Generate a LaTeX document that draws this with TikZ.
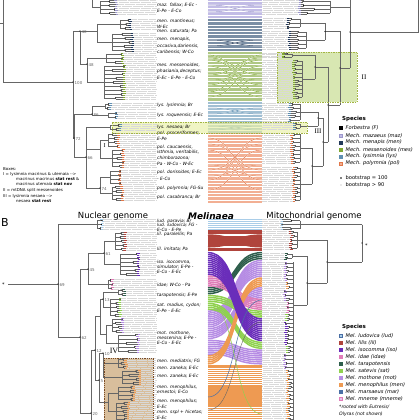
\documentclass[tikz,border=0pt]{standalone}
\usepackage{fontspec}
\setmainfont{DejaVu Sans}
\newfontfamily\serifrm{Liberation Serif}
\definecolor{tr}{HTML}{666666}
\definecolor{cmaz}{HTML}{C2BCE6}\definecolor{tmaz}{HTML}{9C98CC}
\definecolor{cmen}{HTML}{7A8EA5}\definecolor{tmen}{HTML}{22395A}
\definecolor{cmes}{HTML}{AFC784}\definecolor{tmes}{HTML}{7FA832}
\definecolor{clys}{HTML}{A1BFD3}\definecolor{tlys}{HTML}{5F8FB2}
\definecolor{cpol}{HTML}{F2AF93}\definecolor{tpol}{HTML}{E2784A}
\definecolor{blud}{HTML}{A9CDE8}\definecolor{blil}{HTML}{B0443C}
\definecolor{biso}{HTML}{6A2DBA}\definecolor{bidae}{HTML}{E07DB8}
\definecolor{btara}{HTML}{2E5E4C}\definecolor{bsat}{HTML}{8FD14F}
\definecolor{bmot}{HTML}{B68CE4}\definecolor{bmen}{HTML}{EE9A52}
\definecolor{bmar}{HTML}{4A6FA5}\definecolor{bmneme}{HTML}{E8C3EC}
\definecolor{boxIIfill}{HTML}{D8E7B2}\definecolor{boxIIline}{HTML}{A3B542}
\definecolor{boxIIIfill}{HTML}{E6EF9C}
\definecolor{boxIVfill}{HTML}{D8BE9C}\definecolor{boxIVline}{HTML}{7B4A22}
\tikzset{
 tree/.style={draw=tr, line width=0.4pt},
 leader/.style={draw=gray!30, line width=0.25pt, dash pattern=on 0.4pt off 0.7pt},
 tipc/.style={line width=0.7pt},
 rib/.style={line width=1.5pt},
 lab/.style={anchor=west, inner sep=0pt, font=\fontsize{4.4}{5}\selectfont\itshape},
 bsl/.style={anchor=west, inner sep=0pt, font=\fontsize{4}{5}\selectfont, text=tr},
 note/.style={anchor=west, inner sep=0pt, font=\fontsize{4}{5}\selectfont},
 leg/.style={anchor=west, inner sep=0pt, font=\fontsize{5.1}{6}\selectfont\itshape},
 legt/.style={anchor=west, inner sep=0pt, font=\fontsize{5.5}{6}\selectfont\bfseries},
 rom/.style={inner sep=0pt, font=\fontsize{7}{8}\selectfont\serifrm},
}
% clade: #1 xnode #2 ytop #3 spacing #4 npairs #5 xtip #6 color #7 dir #8 xlead
\newcommand\clade[8]{%
 \pgfmathsetmacro\cA{#2+0.5*#3}%
 \pgfmathsetmacro\cB{#2+(2*#4-1.5)*#3}%
 \draw[tree] (#1,\cA) -- (#1,\cB);%
 \foreach \k in {1,...,#4}{%
  \pgfmathsetmacro\ym{#2+(2*\k-1.5)*#3}%
  \pgfmathsetmacro\yu{#2+(2*\k-2)*#3}%
  \pgfmathsetmacro\yl{#2+(2*\k-1)*#3}%
  \pgfmathsetmacro\xs{#5-(#7)*(1.5+rnd*(abs(#5-#1)-2)*0.7)}%
  \pgfmathsetmacro\tu{#5-(#7)*rnd*1.5}%
  \pgfmathsetmacro\tl{#5-(#7)*rnd*1.5}%
  \draw[leader] (\tu,\yu) -- (#8,\yu) (\tl,\yl) -- (#8,\yl);%
  \draw[tree] (#1,\ym) -- (\xs,\ym) (\xs,\yu) -- (\xs,\yl) (\xs,\yu) -- (\tu,\yu) (\xs,\yl) -- (\tl,\yl);%
  \draw[tipc,#6] ({\tu-(#7)*2.2},\yu) -- (\tu,\yu) ({\tl-(#7)*2.2},\yl) -- (\tl,\yl);%
  \fill (\xs,\ym) circle[radius=0.45pt];%
 }%
}
\newcommand\xA[3]{%
 \draw[white,line width=1.0pt] (208,#1) .. controls (236,#1) and (234,#2) .. (262,#2);%
 \draw[#3,line width=0.5pt] (208,#1) .. controls (236,#1) and (234,#2) .. (262,#2);}
\newcommand\ribB[4]{%
 \foreach \j in {1,...,#3}{%
  \pgfmathsetmacro\yl{219.5+(#1+\j-1)*1.95}%
  \pgfmathsetmacro\yr{219.5+(#2+\j-1)*1.95}%
  \draw[rib,#4] (208,\yl) .. controls (238,\yl) and (232,\yr) .. (262,\yr);}}
\newcommand\lab[2]{\node[lab] at (157,#1) {#2};}
\newcommand\bsn[3]{\fill (#1,#2) circle[radius=0.7pt]; \node[bsl] at (#1+1.5,#2+1) {#3};}
\newcommand\legsq[3]{\filldraw[fill=#2,draw=#3,line width=0.3pt] (339.5,#1-1.5) rectangle (342.6,#1+1.5);}
\begin{document}
\begin{tikzpicture}[x=1pt,y=-1pt]
\useasboundingbox (0,0) rectangle (420,420);
\pgfmathsetseed{11}
% ---------- box fills under trees
\fill[boxIIfill] (277,52) rectangle (357,102);
\fill[boxIVfill] (104,358) rectangle (153,421);
% ---------- panel A band
\fill[cmaz] (208,0) rectangle (262,19);
\fill[cmen] (208,19) rectangle (262,51);
\fill[cmes] (208,51) rectangle (262,102);
\fill[clys] (208,102) rectangle (262,133);
\fill[cpol] (208,133) rectangle (262,203);
\foreach \y in {1.6,4.9,...,202} \draw[white,line width=0.2pt] (208,\y) -- (262,\y);
\xA{5}{12}{tmaz}\xA{12}{5}{tmaz}
\xA{40}{46}{tmen}\xA{46}{40}{tmen}
\xA{55}{92}{tmes}\xA{92}{55}{tmes}\xA{60}{85}{tmes}\xA{85}{60}{tmes}
\xA{66}{97}{tmes}\xA{97}{66}{tmes}\xA{72}{80}{tmes}\xA{80}{72}{tmes}
\xA{58}{75}{tmes}\xA{75}{58}{tmes}
\xA{108}{114}{tlys}\xA{114}{108}{tlys}\xA{126}{130}{tlys}\xA{130}{126}{tlys}
\xA{138}{180}{tpol}\xA{180}{138}{tpol}\xA{144}{170}{tpol}\xA{170}{144}{tpol}
\xA{150}{190}{tpol}\xA{190}{150}{tpol}\xA{165}{176}{tpol}\xA{176}{165}{tpol}
% ---------- panel B ribbons
\ribB{0}{0}{6}{blud}
\ribB{6}{6}{2}{blil}\ribB{9}{9}{5}{blil}\ribB{15}{15}{2}{blil}
\ribB{8}{14}{1}{blil}\ribB{14}{8}{1}{blil}
\ribB{75}{75}{28}{bmen}
\ribB{62}{67}{8}{bmot}
\ribB{56}{35}{6}{bmot}
\ribB{47}{21}{9}{bmot}
\ribB{35}{17}{4}{btara}
\ribB{29}{41}{6}{bidae}
\ribB{39}{47}{4}{bsat}
\ribB{43}{63}{4}{bsat}
\ribB{70}{30}{5}{bmen}
\ribB{17}{51}{12}{biso}
\draw[bmar,line width=0.5pt] (208,397) .. controls (238,397) and (232,300) .. (262,300);
\draw[bsat,line width=0.5pt] (208,303) .. controls (238,303) and (232,414) .. (262,414);
\draw[tr,line width=0.4pt] (208,410) .. controls (238,410) and (232,322) .. (262,322);
% ---------- box III fill
\fill[boxIIIfill,opacity=0.6] (112,122) rectangle (307,133);
% ---------- panel A left tree
\draw[tree] (0,23) -- (3,23) (3,0) -- (3,82) -- (73,82);
\draw[tree] (73,31) -- (73,138);
\draw[tree] (73,31) -- (80,31) (80,31) -- (80,64) (80,64) -- (87,64);
\draw[tree] (80,31) -- (97,31) (97,24) -- (97,42) (97,24) -- (120,24) (97,42) -- (112,42);
\draw[tree] (87,58) -- (87,82) (87,58) -- (106,58) (87,82) -- (104,82);
\draw[tree] (92,0) -- (92,7.5) -- (100,7.5);
\clade{100}{0.5}{2}{4}{118}{tmaz}{1}{156}
\clade{120}{19}{2}{3}{132}{tmen}{1}{156}
\clade{112}{33}{2}{5}{134}{tmen}{1}{156}
\clade{106}{53}{2}{3}{124}{tmes}{1}{156}
\clade{104}{65}{2}{9}{126}{tmes}{1}{156}
\draw[tree] (73,138) -- (74,138) (74,114) -- (74,157) (74,114) -- (92,114) (92,106) -- (92,115)
 (92,106) -- (105,106) (92,115) -- (108,115);
\clade{105}{103}{2}{2}{112}{tlys}{1}{156}
\clade{108}{112}{2}{2}{118}{tlys}{1}{156}
\draw[tree] (74,157) -- (86,157) (86,127) -- (86,188) (86,127) -- (110,127) (86,149) -- (100,149)
 (100,140) -- (100,158) (100,140) -- (108,140) (100,158) -- (112,158)
 (86,188) -- (100,188) (100,177) -- (100,193) (100,177) -- (110,177) (100,193) -- (112,193);
\clade{110}{124}{2}{2}{122}{tlys}{1}{156}
\clade{108}{133}{2}{4}{120}{tpol}{1}{156}
\clade{112}{149}{2}{5}{125}{tpol}{1}{156}
\clade{110}{170}{2}{4}{122}{tpol}{1}{156}
\clade{112}{186}{2}{4}{124}{tpol}{1}{156}
\bsn{80}{31}{40}\bsn{87}{64}{48}\bsn{73}{82}{100}\bsn{92}{114}{86}
\bsn{74}{138}{72}\bsn{86}{157}{66}\bsn{100}{188}{74}
\node[rom,font=\fontsize{6}{7}\selectfont\serifrm] at (104.5,146) {I};
% ---------- panel A right tree
\draw[tree] (418,0) -- (418,32) -- (350,32) (350,0) -- (350,68) (350,7.5) -- (330,7.5)
 (350,68) -- (340,68) (340,31.5) -- (340,105) (340,31.5) -- (325,31.5)
 (325,23) -- (325,40) (325,23) -- (300,23) (325,40) -- (306,40)
 (340,105) -- (328,105) (328,67) -- (328,142) (328,67) -- (315,67)
 (315,55.25) -- (315,79) (315,55.25) -- (292,55.25) (315,79) -- (302,79)
 (328,142) -- (323,142) (323,118) -- (323,166) (323,118) -- (318,118)
 (318,112) -- (318,126) (318,112) -- (300,112) (318,126) -- (300,126)
 (323,166) -- (312,166) (312,148) -- (312,184) (312,148) -- (300,148) (312,184) -- (300,184);
\clade{330}{0.5}{2}{4}{298}{tmaz}{-1}{262}
\clade{300}{18}{2}{3}{286}{tmen}{-1}{262}
\clade{306}{31}{2}{5}{288}{tmen}{-1}{262}
\clade{292}{53}{1.5}{2}{281}{tmes}{-1}{262}
\clade{302}{60}{2}{10}{292}{tmes}{-1}{262}
\clade{300}{103}{2}{5}{288}{tlys}{-1}{262}
\clade{300}{123}{2}{2}{292}{tlys}{-1}{262}
\clade{300}{133}{2}{8}{290}{tpol}{-1}{262}
\clade{300}{167}{2}{9}{292}{tpol}{-1}{262}
\foreach \p in {(350,32),(340,68),(325,31.5),(328,105),(315,67),(323,142),(318,118),(312,166)}
 \fill \p circle[radius=0.7pt];
% ---------- panel B left tree
\draw[tree] (8,284) -- (58,284) (58,224.5) -- (58,337) (58,224.5) -- (97,224.5)
 (58,337) -- (80,337) (80,269) -- (80,413)
 (80,269) -- (88,269) (88,253) -- (88,284) (88,253) -- (104,253) (88,284) -- (108,284)
 (104,241) -- (104,264) (104,241) -- (115,241) (104,264) -- (120,264)
 (80,413) -- (91,413) (91,350) -- (91,421) (91,350) -- (95,350)
 (95,316) -- (95,380) (95,316) -- (100,316) (100,299) -- (100,334)
 (100,299) -- (103,299) (103,292) -- (103,307) (103,292) -- (118,292) (103,307) -- (110,307)
 (100,334) -- (106,334) (106,325) -- (106,343) (106,325) -- (112,325) (106,343) -- (118,343)
 (95,380) -- (99,380) (99,353) -- (99,402) (99,353) -- (103,353) (99,402) -- (108,402)
 (103,353) -- (103,377) (103,363) -- (118,363) (103,377) -- (122,377)
 (108,393) -- (108,411) (108,393) -- (118,393) (108,411) -- (116,411);
\clade{97}{219.5}{2}{3}{104}{blud}{1}{156}
\clade{115}{232}{2}{5}{127}{blil}{1}{156}
\clade{120}{253}{2}{6}{140}{biso}{1}{156}
\clade{108}{279}{2}{3}{114}{bidae}{1}{156}
\clade{118}{289}{2}{2}{126}{btara}{1}{156}
\clade{110}{298}{2}{5}{122}{bsat}{1}{156}
\clade{112}{318}{2}{4}{124}{bmot}{1}{156}
\clade{118}{334}{2}{5}{140}{bmot}{1}{156}
\clade{118}{358}{2}{3}{128}{bmen}{1}{156}
\clade{122}{370}{2}{4}{142}{bmen}{1}{156}
\clade{118}{386}{2}{4}{136}{bmen}{1}{156}
\clade{116}{402}{2}{5}{130}{bmen}{1}{156}
\bsn{58}{284}{69}\bsn{88}{269}{45}\bsn{104}{253}{61}\bsn{80}{337}{62}
\bsn{103}{299}{13}\bsn{95}{350}{12}\bsn{103}{353}{10}\bsn{99}{380}{5}\bsn{91}{413}{20}
\node[anchor=west,inner sep=0pt,font=\fontsize{5}{6}\selectfont] at (2,285) {*};
% ---------- panel B right tree
\draw[tree] (362,224.5) -- (362,262) (362,224.5) -- (300,224.5) (362,262) -- (327,262)
 (327,240) -- (327,283) (327,240) -- (297,240) (327,283) -- (307,283)
 (307,256) -- (307,305) (307,256) -- (292,256) (307,305) -- (293,305) (293,262) -- (293,421);
\clade{300}{219.5}{2}{3}{280}{blud}{-1}{262}
\clade{297}{231}{2}{5}{289}{blil}{-1}{262}
\clade{292}{253}{2}{2}{284}{btara}{-1}{262}
\clade{293}{262}{2}{5}{284}{bmot}{-1}{262}
\clade{293}{282}{2}{2}{285}{bmen}{-1}{262}
\clade{293}{290}{2}{3}{283}{bmot}{-1}{262}
\clade{293}{302}{2}{3}{286}{bidae}{-1}{262}
\clade{293}{314}{2}{2}{285}{bsat}{-1}{262}
\clade{293}{322}{2}{6}{284}{biso}{-1}{262}
\clade{293}{346}{2}{2}{285}{bsat}{-1}{262}
\clade{293}{354}{2}{4}{283}{bmot}{-1}{262}
\clade{293}{370}{2}{13}{286}{bmen}{-1}{262}
\foreach \p in {(362,243),(327,262),(307,283),(293,343)} \fill \p circle[radius=0.7pt];
\node[anchor=west,inner sep=0pt,font=\fontsize{5}{6}\selectfont] at (365,246) {*};
% ---------- labels A
\lab{5}{maz. fallax; E-Ec -}\lab{11}{E-Pe - E-Co}
\lab{21}{men. mantineus;}\lab{26.5}{W-Ec}\lab{31.5}{men. saturata; Pa}
\lab{39.5}{men. menapis,}\lab{46}{occasiva,dariensis,}\lab{52}{caribensis; W-Co}
\lab{65}{mes. messenoides,}\lab{71.5}{phasiania,deceptus;}\lab{78}{E-Ec - E-Pe - E-Co}
\lab{105.5}{lys. lysimnia; Br}\lab{115}{lys. roqueensis; E-Ec}\lab{127}{lys. nesaea; Br}
\lab{133}{pol. proceriformes;}\lab{139}{E-Pe}
\lab{147}{pol. caucaensis,}\lab{152.5}{isthmia, veritabilis,}\lab{158}{chimborazona;}
\lab{164}{Pa - W-Co - W-Ec}
\lab{172.5}{pol. dorissides; E-Ec}\lab{178.5}{- E-Co}
\lab{188.5}{pol. polymnia; FG-Su}\lab{197.5}{pol. casabranca; Br}
% ---------- labels B
\lab{221}{lud. paravia; Br}\lab{225.5}{lud. ludovica; FG -}\lab{230}{E-Co - E-Pe}
\lab{234.5}{lil. paralellis; Pa}\lab{249}{lil. imitata; Pa}
\lab{262}{iso. isocomma,}\lab{267}{simulator; E-Pe -}\lab{272}{E-Co - E-Ec}
\lab{285}{idae; W-Co - Pa}\lab{295}{tarapotensis; E-Pe}
\lab{305}{sat. madius, cydon;}\lab{311}{E-Pe - E-Ec}
\lab{333}{mot. mothone,}\lab{338}{messenina; E-Pe -}\lab{343}{E-Co - E-Ec}
\lab{361}{men. mediatrix; FG}\lab{368.5}{men. zaneka; E-Ec}\lab{376}{men. zaneka; E-Ec}
\lab{387}{men. menophilus,}\lab{392}{ernestoi; E-Co}
\lab{401.5}{men. menophilus;}\lab{406.5}{E-Ec}\lab{412}{men. sspl + hicetas;}\lab{417.5}{E-Ec}
% ---------- box borders and roman labels
\draw[boxIIline,line width=0.5pt,dash pattern=on 1.5pt off 1pt] (277,52) rectangle (357,102);
\draw[boxIIline,line width=0.5pt,dash pattern=on 1.5pt off 1pt] (112,122) rectangle (307,133);
\draw[boxIVline,line width=0.8pt,dash pattern=on 0.9pt off 0.9pt] (104,358) rectangle (153,421);
\node[rom] at (364,77) {II};
\node[rom] at (318,131) {III};
\node[rom,font=\fontsize{8}{9}\selectfont\serifrm] at (114,351) {IV};
% ---------- notes A
\node[note] at (3,169.5) {Boxes:};
\node[note] at (3,174.5) {I = lysimnia macrinus \& utemaia {-}{-}>};
\node[note] at (16,179.5) {macrinus macrinus \textbf{stat rest} \&};
\node[note] at (16,184.5) {macrinus utemaia \textbf{stat nov}};
\node[note] at (3,190.5) {II = mtDNA split messenoides};
\node[note] at (3,196) {III = lysimnia nesaea {-}{-}>};
\node[note] at (16,201) {nesaea \textbf{stat rest}};
% ---------- legend A
\node[legt] at (342,119) {Species};
\legsq{128}{black}{black}\node[leg] at (345.5,128) {Forbestra (F)};
\legsq{135.5}{cmaz}{tmaz}\node[leg] at (345.5,135.5) {Mech. mazaeus (maz)};
\legsq{142.5}{tmen}{tmen}\node[leg] at (345.5,142.5) {Mech. menapis (men)};
\legsq{149.5}{tmes}{tmes}\node[leg] at (345.5,149.5) {Mech. messenoides (mes)};
\legsq{156.5}{tlys}{tlys}\node[leg] at (345.5,156.5) {Mech. lysimnia (lys)};
\legsq{163.5}{cpol}{tpol}\node[leg] at (345.5,163.5) {Mech. polymnia (pol)};
\fill (341,178) circle[radius=0.8pt];\node[anchor=west,inner sep=0pt,font=\fontsize{5.1}{6}\selectfont] at (345.5,178) {bootstrap = 100};
\fill (341,185) circle[radius=0.45pt];\node[anchor=west,inner sep=0pt,font=\fontsize{5.1}{6}\selectfont] at (345.5,185) {bootstrap > 90};
% ---------- headers B
\node[anchor=west,inner sep=0pt,font=\fontsize{11}{12}\selectfont] at (1,222) {B};
\node[inner sep=0pt,font=\fontsize{8.5}{9}\selectfont] at (113,216.5) {Nuclear genome};
\node[inner sep=0pt,font=\fontsize{9}{10}\selectfont\bfseries\itshape] at (211,216.5) {Melinaea};
\node[inner sep=0pt,font=\fontsize{8.5}{9}\selectfont] at (314,216.5) {Mitochondrial genome};
% ---------- legend B
\node[legt] at (342,327) {Species};
\legsq{336}{blud}{bmar}\node[leg] at (345.5,336) {Mel. ludovica (lud)};
\legsq{343}{blil}{blil}\node[leg] at (345.5,343) {Mel. lilis (lil)};
\legsq{350}{biso}{biso}\node[leg] at (345.5,350) {Mel. isocomma (iso)};
\legsq{357}{bidae}{bidae}\node[leg] at (345.5,357) {Mel. idae (idae)};
\legsq{364}{btara}{btara}\node[leg] at (345.5,364) {Mel. tarapotensis};
\legsq{371}{bsat}{bsat}\node[leg] at (345.5,371) {Mel. satevis (sat)};
\legsq{378}{bmot}{bmot}\node[leg] at (345.5,378) {Mel. mothone (mot)};
\legsq{385}{bmen}{bmen}\node[leg] at (345.5,385) {Mel. menophilus (men)};
\legsq{392}{bmar}{bmar}\node[leg] at (345.5,392) {Mel. marsaeus (mar)};
\legsq{399}{bmneme}{bidae}\node[leg] at (345.5,399) {Mel. mneme (mneme)};
\node[leg,font=\fontsize{4.6}{5}\selectfont\itshape] at (339,407) {*rooted with Eutresis/};
\node[leg,font=\fontsize{4.6}{5}\selectfont\itshape] at (339,414) {Olyras (not shown)};
\end{tikzpicture}
\end{document}
